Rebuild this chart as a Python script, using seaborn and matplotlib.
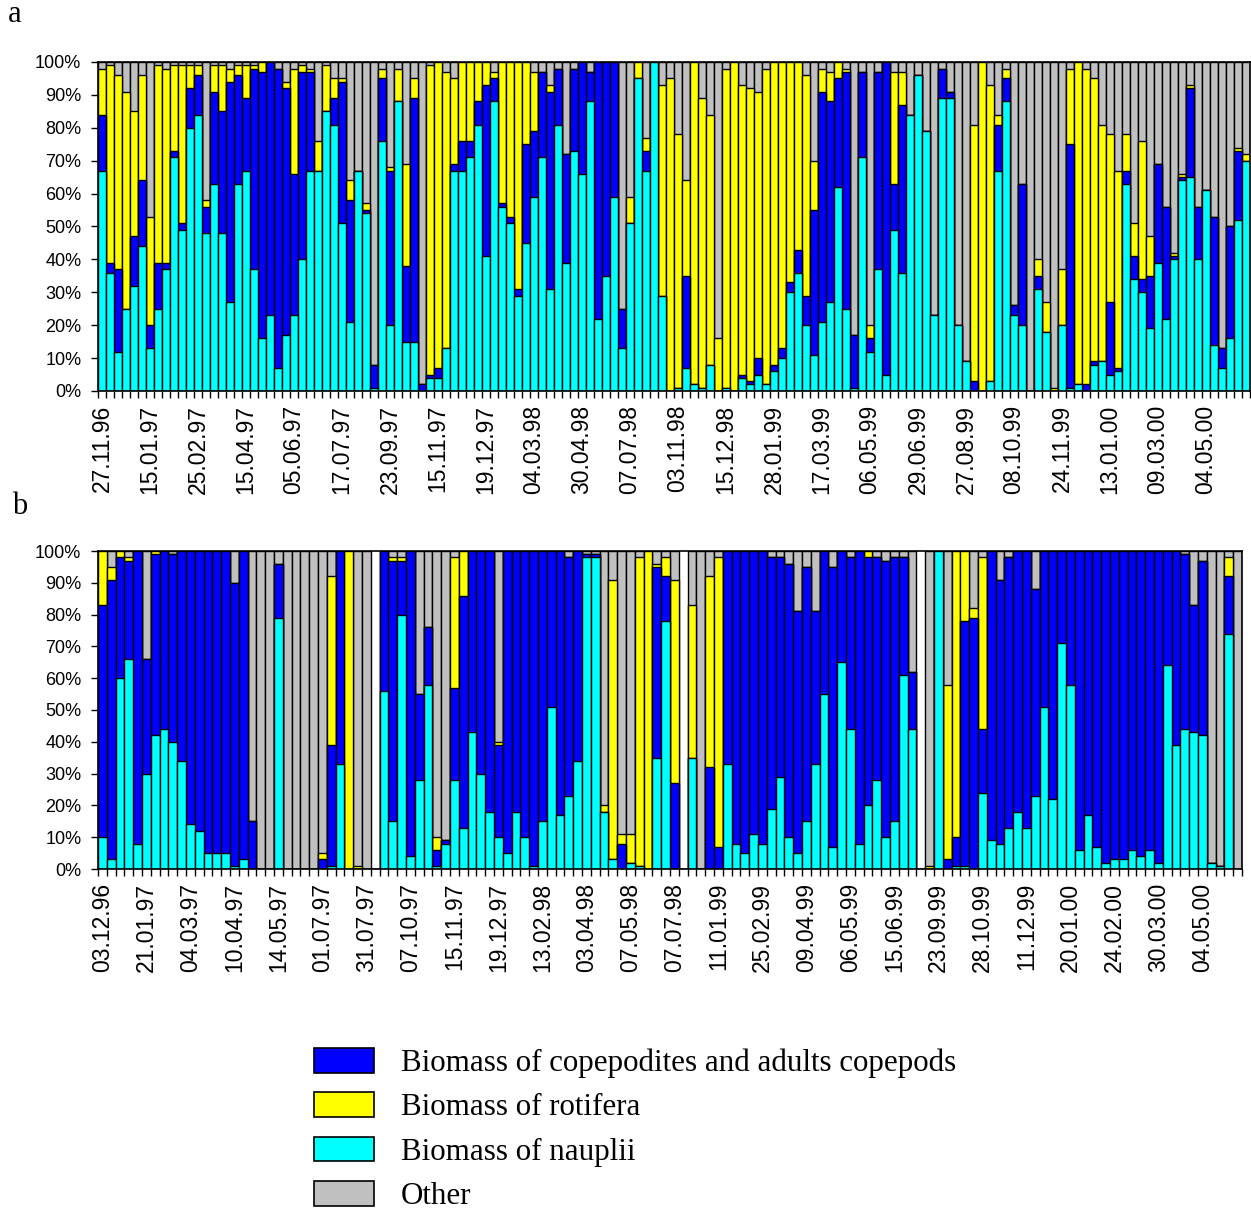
import matplotlib
matplotlib.use("Agg")
import matplotlib.pyplot as plt
from matplotlib.patches import Patch
from matplotlib.ticker import PercentFormatter
import numpy as np
import pandas as pd
import seaborn as sns

# ---- panel a: shares of zooplankton biomass (%) per sampling date ----
a_nauplii = [67, 36, 12, 25, 32, 44, 13, 25, 37, 71,
             49, 80, 84, 48, 63, 48, 27, 63, 67, 37,
             16, 23, 7, 17, 23, 40, 67, 67, 85, 81,
             51, 21, 67, 54, 1, 76, 20, 88, 15, 15,
             0, 4, 4, 13, 67, 67, 71, 81, 41, 88,
             56, 51, 29, 45, 59, 71, 31, 81, 39, 73,
             66, 88, 22, 35, 59, 13, 51, 95, 67, 100,
             29, 0, 1, 7, 2, 1, 8, 0, 1, 0,
             4, 2, 5, 2, 6, 10, 30, 36, 20, 11,
             21, 27, 62, 25, 1, 71, 12, 37, 5, 49,
             36, 84, 96, 79, 23, 89, 89, 20, 9, 0,
             0, 3, 67, 88, 23, 20, 0, 31, 18, 0,
             20, 1, 2, 0, 8, 9, 5, 6, 63, 34,
             30, 19, 39, 22, 40, 64, 65, 40, 61, 14,
             7, 16, 52, 70]
a_copepods = [17, 3, 25, 0, 15, 20, 7, 14, 2, 2,
              2, 12, 12, 8, 28, 37, 67, 33, 22, 61,
              81, 77, 91, 75, 43, 57, 30, 0, 0, 8,
              43, 37, 0, 1, 7, 19, 47, 0, 23, 74,
              2, 1, 3, 0, 2, 9, 5, 7, 52, 7,
              1, 2, 2, 30, 20, 26, 60, 17, 33, 25,
              34, 9, 78, 65, 41, 12, 0, 0, 6, 0,
              0, 0, 0, 28, 0, 0, 0, 0, 0, 0,
              1, 1, 5, 0, 2, 3, 3, 7, 9, 44,
              70, 61, 33, 72, 16, 26, 4, 60, 95, 14,
              51, 0, 0, 0, 0, 9, 2, 0, 0, 3,
              0, 0, 14, 7, 3, 43, 0, 4, 0, 0,
              0, 74, 0, 2, 1, 0, 22, 1, 4, 7,
              4, 16, 30, 34, 1, 1, 27, 16, 0, 39,
              6, 34, 21, 0]
a_rotifera = [14, 60, 59, 66, 38, 32, 33, 60, 59, 26,
              48, 7, 3, 2, 8, 14, 4, 3, 10, 1,
              3, 0, 0, 2, 32, 2, 1, 9, 14, 6,
              1, 6, 0, 2, 0, 3, 1, 10, 31, 6,
              0, 94, 93, 84, 26, 24, 24, 12, 7, 2,
              43, 47, 69, 25, 18, 0, 2, 0, 0, 0,
              0, 0, 0, 0, 0, 0, 8, 5, 4, 0,
              64, 95, 77, 29, 98, 88, 76, 16, 97, 100,
              88, 89, 81, 96, 92, 87, 67, 57, 67, 15,
              7, 9, 5, 1, 0, 0, 4, 0, 0, 34,
              10, 0, 0, 0, 0, 0, 0, 0, 0, 78,
              100, 90, 3, 3, 0, 0, 0, 5, 9, 1,
              17, 23, 98, 96, 86, 72, 51, 60, 11, 10,
              42, 12, 0, 0, 1, 1, 1, 0, 0, 0,
              0, 0, 1, 2]
a_other = [2, 1, 4, 9, 15, 4, 47, 1, 2, 1,
           1, 1, 1, 42, 1, 1, 2, 1, 1, 1,
           0, 0, 2, 6, 2, 1, 2, 24, 1, 5,
           5, 36, 33, 43, 92, 2, 32, 2, 31, 5,
           98, 1, 0, 3, 5, 0, 0, 0, 0, 3,
           0, 0, 0, 0, 3, 3, 7, 2, 28, 2,
           0, 3, 0, 0, 0, 75, 41, 0, 23, 0,
           7, 5, 22, 36, 0, 11, 16, 84, 2, 0,
           7, 8, 9, 2, 0, 0, 0, 0, 4, 30,
           2, 3, 0, 2, 83, 3, 80, 3, 0, 3,
           3, 16, 4, 21, 77, 2, 9, 80, 91, 19,
           0, 7, 16, 2, 74, 37, 100, 60, 73, 99,
           63, 2, 0, 2, 5, 19, 22, 33, 22, 49,
           24, 53, 31, 44, 58, 34, 7, 44, 39, 47,
           87, 50, 26, 28]
a_dates = ["27.11.96", "15.01.97", "25.02.97", "15.04.97", "05.06.97", "17.07.97",
           "23.09.97", "15.11.97", "19.12.97", "04.03.98", "30.04.98", "07.07.98",
           "03.11.98", "15.12.98", "28.01.99", "17.03.99", "06.05.99", "29.06.99",
           "27.08.99", "08.10.99", "24.11.99", "13.01.00", "09.03.00", "04.05.00"]

# ---- panel b ----
b_nauplii = [10, 3, 60, 66, 8, 30, 42, 44, 40, 34,
             14, 12, 5, 5, 5, 1, 3, 0, 0, 0,
             79, 0, 0, 0, 0, 0, 1, 33, 0, 0,
             0, 0, 56, 15, 80, 4, 28, 58, 1, 8,
             28, 13, 43, 30, 18, 10, 5, 18, 10, 1,
             15, 51, 17, 23, 34, 98, 98, 18, 3, 0,
             2, 1, 0, 35, 78, 0, 0, 35, 0, 0,
             0, 33, 8, 5, 11, 8, 19, 29, 10, 5,
             15, 33, 55, 7, 65, 44, 8, 20, 28, 10,
             15, 61, 44, 0, 0, 100, 0, 1, 1, 0,
             24, 9, 8, 13, 18, 13, 23, 51, 22, 71,
             58, 6, 17, 7, 2, 3, 3, 6, 4, 6,
             2, 64, 39, 44, 43, 42, 2, 1, 74, 0]
b_copepods = [73, 88, 38, 31, 92, 36, 57, 56, 59, 66,
              86, 88, 95, 95, 95, 89, 97, 15, 0, 0,
              17, 0, 0, 0, 0, 3, 38, 67, 0, 0,
              0, 0, 44, 82, 17, 96, 27, 18, 5, 1,
              29, 73, 57, 70, 82, 29, 95, 82, 90, 99,
              85, 49, 83, 75, 66, 1, 1, 0, 0, 8,
              0, 0, 0, 60, 14, 27, 0, 0, 0, 32,
              7, 67, 92, 95, 89, 92, 79, 69, 86, 76,
              80, 48, 45, 88, 35, 54, 92, 78, 70, 87,
              83, 37, 18, 0, 0, 0, 3, 9, 77, 79,
              20, 91, 83, 85, 82, 87, 65, 49, 78, 29,
              42, 94, 83, 93, 98, 97, 97, 94, 96, 94,
              98, 36, 61, 55, 40, 55, 0, 0, 18, 0]
b_rotifera = [17, 4, 2, 1, 0, 0, 1, 0, 0, 0,
              0, 0, 0, 0, 0, 0, 0, 0, 0, 0,
              0, 0, 0, 0, 0, 2, 53, 0, 100, 1,
              0, 0, 0, 1, 1, 0, 0, 0, 4, 0,
              41, 14, 0, 0, 0, 1, 0, 0, 0, 0,
              0, 0, 0, 0, 0, 0, 0, 2, 88, 3,
              9, 97, 100, 1, 6, 64, 0, 48, 0, 60,
              91, 0, 0, 0, 0, 0, 0, 0, 0, 0,
              0, 0, 0, 0, 0, 0, 0, 2, 0, 0,
              0, 0, 0, 0, 1, 0, 55, 90, 22, 3,
              54, 0, 0, 0, 0, 0, 0, 0, 0, 0,
              0, 0, 0, 0, 0, 0, 0, 0, 0, 0,
              0, 0, 0, 0, 0, 0, 0, 0, 6, 0]
b_other = [0, 5, 0, 2, 0, 34, 0, 0, 1, 0,
           0, 0, 0, 0, 0, 10, 0, 85, 100, 100,
           4, 100, 100, 100, 100, 95, 8, 0, 0, 99,
           100, 0, 0, 2, 2, 0, 45, 24, 90, 91,
           2, 0, 0, 0, 0, 60, 0, 0, 0, 0,
           0, 0, 0, 2, 0, 1, 1, 80, 9, 89,
           89, 2, 0, 4, 2, 9, 0, 17, 100, 8,
           2, 0, 0, 0, 0, 0, 2, 2, 4, 19,
           5, 19, 0, 5, 0, 2, 0, 0, 2, 3,
           2, 2, 38, 0, 99, 0, 42, 0, 0, 18,
           2, 0, 9, 2, 0, 0, 12, 0, 0, 0,
           0, 0, 0, 0, 0, 0, 0, 0, 0, 0,
           0, 0, 0, 1, 17, 3, 98, 99, 2, 100]
b_dates = ["03.12.96", "21.01.97", "04.03.97", "10.04.97", "14.05.97", "01.07.97",
           "31.07.97", "07.10.97", "15.11.97", "19.12.97", "13.02.98", "03.04.98",
           "07.05.98", "07.07.98", "11.01.99", "25.02.99", "09.04.99", "06.05.99",
           "15.06.99", "23.09.99", "28.10.99", "11.12.99", "20.01.00", "24.02.00",
           "30.03.00", "04.05.00"]

legend_labels = ["Biomass of copepodites and adults copepods", "Biomass of rotifera",
                 "Biomass of nauplii", "Other"]
c_cope, c_roti, c_naup, c_other = "#0000ff", "#ffff00", "#00ffff", "#c0c0c0"

plt.rcParams["font.family"] = ["Liberation Sans", "DejaVu Sans"]


def stacked(ax, naup, cope, roti, other, dates, step):
    df = pd.DataFrame({"sample": np.arange(len(naup)), "naup": naup,
                       "cope": cope, "roti": roti, "other": other})
    df["top_cope"] = df["naup"] + df["cope"]
    df["top_roti"] = df["top_cope"] + df["roti"]
    df["top_other"] = df["top_roti"] + df["other"]
    # draw from the highest level down so each layer covers the one above it
    for col, color in [("top_other", c_other), ("top_roti", c_roti),
                       ("top_cope", c_cope), ("naup", c_naup)]:
        sns.barplot(data=df, x="sample", y=col, color=color, width=1, saturation=1,
                    edgecolor="black", linewidth=1.0, errorbar=None, ax=ax)
    n = len(df)
    ax.set_xlim(-0.5, n - 0.5)
    ax.set_ylim(0, 100)
    ax.set_xticks(np.arange(0, n, step)[:len(dates)])
    ax.set_xticklabels(dates, rotation=90, fontsize=16.5)
    ax.set_xticks(np.arange(-0.5, n, 1), minor=True)
    ax.tick_params(axis="x", which="major", length=0, pad=10)
    ax.tick_params(axis="x", which="minor", length=5, width=1)
    ax.set_yticks(range(0, 101, 10))
    ax.yaxis.set_major_formatter(PercentFormatter(decimals=0))
    ax.tick_params(axis="y", length=5, width=1, labelsize=13, pad=7)
    ax.set_xlabel("")
    ax.set_ylabel("")
    for s in ax.spines.values():
        s.set_linewidth(1.2)


fig = plt.figure(figsize=(12.51, 12.15), dpi=100)
ax_a = fig.add_axes([98 / 1251, 1 - 391 / 1215, 1152 / 1251, 329 / 1215])
ax_b = fig.add_axes([98 / 1251, 1 - 869 / 1215, 1144 / 1251, 318 / 1215])

stacked(ax_a, a_nauplii, a_copepods, a_rotifera, a_other, a_dates, 6)
stacked(ax_b, b_nauplii, b_copepods, b_rotifera, b_other, b_dates, 5)

serif = {"family": ["Liberation Serif", "DejaVu Serif"], "size": 22}
fig.text(15 / 1251, 1 - 15 / 1215, "a", ha="center", va="center", fontdict=serif)
fig.text(20 / 1251, 1 - 507 / 1215, "b", ha="center", va="center", fontdict=serif)

handles = [Patch(facecolor=c, edgecolor="black", linewidth=1.2)
           for c in (c_cope, c_roti, c_naup, c_other)]
fig.legend(handles, legend_labels, loc="upper left",
           bbox_to_anchor=(314 / 1251, 1 - 1048 / 1215), frameon=False,
           prop={"family": ["Liberation Serif", "DejaVu Serif"], "size": 22.3},
           handlelength=1.95, handleheight=0.85, handletextpad=0.85,
           labelspacing=0.46, borderpad=0, borderaxespad=0)

fig.savefig("out.png", dpi=100)
